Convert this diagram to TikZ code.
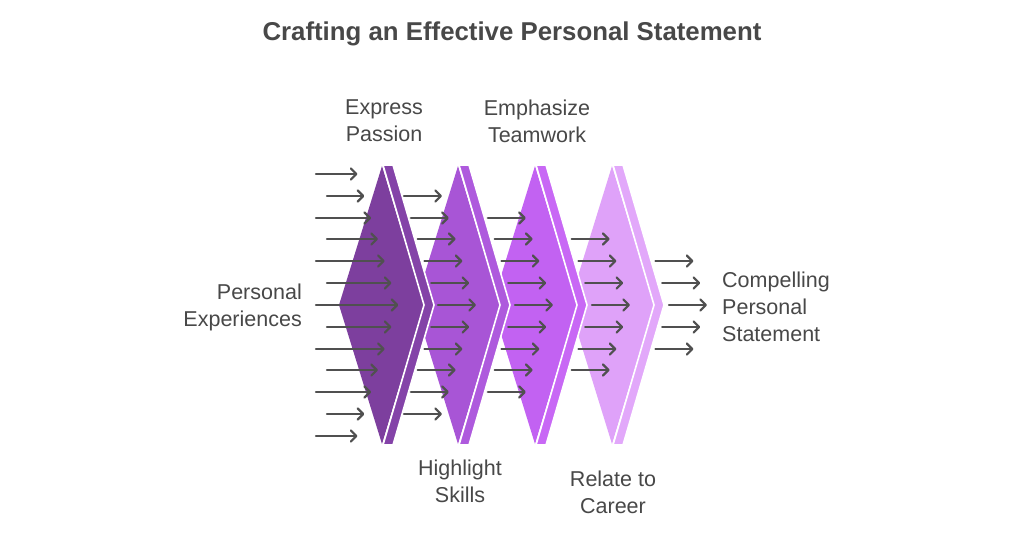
\documentclass[tikz,border=0pt]{standalone}
\usepackage{fontspec}
\setmainfont{Liberation Sans}
\usetikzlibrary{arrows.meta}
\definecolor{txt}{HTML}{484848}
\definecolor{arrc}{HTML}{505050}
\definecolor{faceA}{HTML}{7D3F9E}
\definecolor{stripA}{HTML}{8443A8}
\definecolor{faceB}{HTML}{A855D6}
\definecolor{stripB}{HTML}{AE5ADD}
\definecolor{faceC}{HTML}{C262F2}
\definecolor{stripC}{HTML}{C868F5}
\definecolor{faceD}{HTML}{DFA2F9}
\definecolor{stripD}{HTML}{E2A8FA}
\newcommand\mychev[3]{%
  \fill[#2] (#1,166) -- (#1-43,305) -- (#1,444) -- (#1+42,305) -- cycle;
  \filldraw[fill=#3, draw=white, line width=1.6pt, line join=miter]
    (#1+1,165) -- (#1+11,165) -- (#1+52,305) -- (#1+11,445) -- (#1+1,445) -- (#1+42,305) -- cycle;}
\begin{document}
\begin{tikzpicture}[x=1pt,y=-1pt,
  arr/.style={draw=arrc, line width=2.2pt, line cap=round, -{Straight Barb[length=5.5pt,width=11pt,line width=2.2pt,round]}},
  lbl/.style={text=txt, font=\fontsize{21.5}{27}\selectfont, inner sep=0pt},
  ttl/.style={text=txt, font=\fontsize{25.8}{30}\selectfont\bfseries, inner sep=0pt}]
\useasboundingbox (0,0) rectangle (1024,536);
\fill[white] (0,0) rectangle (1024,536);
% shapes, right to left
\mychev{612}{faceD}{stripD}
\mychev{535}{faceC}{stripC}
\mychev{458}{faceB}{stripB}
\mychev{382}{faceA}{stripA}
% first arrow group
\foreach \i in {0,...,12}{
  \pgfmathtruncatemacro\k{min(\i,12-\i)}
  \pgfmathtruncatemacro\y{round(174+21.83*\i)}
  \pgfmathsetmacro\xe{357.5+6.8*\k}
  \pgfmathsetmacro\xs{mod(\i,2)==1 ? 327 : 316}
  \draw[arr] (\xs,\y) -- (\xe,\y);
}
% other arrow groups
\foreach \g in {2,...,5}{
  \foreach \i in {0,...,12}{
    \pgfmathtruncatemacro\k{min(\i,12-\i)}
    \pgfmathtruncatemacro\kmin{\g-1}
    \ifnum\k<\kmin\relax\else
      \pgfmathtruncatemacro\y{round(174+21.83*\i)}
      \pgfmathsetmacro\xs{404+77*(\g-2)+6.8*(\k-1)}
      \pgfmathsetmacro\xe{\xs+38}
      \draw[arr] (\xs,\y) -- (\xe,\y);
    \fi
  }
}
% texts
\node[ttl] (title) at (512,34) {Crafting an Effective Personal Statement};
\node[lbl, align=center] (passion) at (384,121) {Express\\Passion};
\node[lbl, align=center] (team) at (537,121) {Emphasize\\Teamwork};
\node[lbl, align=right, anchor=east] (exp) at (302,307) {Personal\\Experiences};
\node[lbl, align=center] (skills) at (460,481) {Highlight\\Skills};
\node[lbl, align=center] (career) at (613,492) {Relate to\\Career};
\node[lbl, align=left, anchor=west] (result) at (722,307) {Compelling\\Personal\\Statement};
\end{tikzpicture}
\end{document}
